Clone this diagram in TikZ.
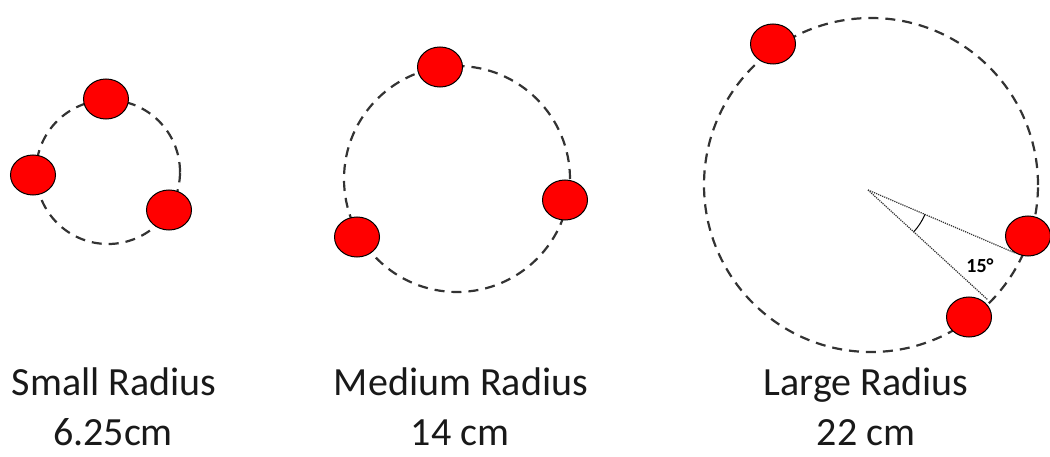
\documentclass[tikz,border=0pt]{standalone}
\usepackage{fontspec}
\setmainfont{Carlito}
\usetikzlibrary{shapes.geometric}

\tikzset{
  orbit/.style={draw=black!80, line width=2.2pt, dash pattern=on 10pt off 7pt},
  ball/.style={ellipse, draw=black, line width=1pt, fill=red, minimum width=45pt, minimum height=40pt, inner sep=0pt},
  caption/.style={anchor=base, font=\fontsize{40}{48}\selectfont, text=black!90, inner sep=0pt},
  ray/.style={densely dotted, line width=1.2pt, black!80}
}

\begin{document}
\begin{tikzpicture}[x=1pt, y=1pt]
    \useasboundingbox (0,0) rectangle (1050,456);
    % centres of the three circles
    \coordinate (sc) at (108,284);
    \coordinate (mc) at (457,277);
    \coordinate (lc) at (871,271);
    \draw[orbit] (sc) circle[radius=72];
    \draw[orbit] (mc) circle[radius=113];
    \draw[orbit] (lc) circle[radius=167];
    % small radius
    \node[ball] (s1) at (106,357) {};
    \node[ball] (s2) at (33,281) {};
    \node[ball] (s3) at (169,246) {};
    % medium radius
    \node[ball] (m1) at (440,389) {};
    \node[ball] (m2) at (565,256) {};
    \node[ball] (m3) at (357,219) {};
    % large radius
    \node[ball] (l1) at (773,412) {};
    \node[ball] (l2) at (1028,220) {};
    \node[ball] (l3) at (969,139) {};
    % angle between neighbours
    \coordinate (v) at (868,266);
    \coordinate (a1) at (1015,203);
    \coordinate (a2) at (988,156);
    \draw[ray] (v) -- (a1);
    \draw[ray] (v) -- (a2);
    \draw[line width=1pt] (v) ++(-23.2:62) arc[start angle=-23.2, end angle=-42.5, radius=62];
    \node[font=\bfseries\fontsize{20}{24}\selectfont] (ang) at (980,190) {15°};
    % captions
    \node[caption] (st) at (114,61) {Small Radius};
    \node[caption] (sv) at (113,11) {6.25cm};
    \node[caption] (mt) at (461,61) {Medium Radius};
    \node[caption] (mv) at (460,11) {14 cm};
    \node[caption] (lt) at (866,61) {Large Radius};
    \node[caption] (lv) at (866,11) {22 cm};
\end{tikzpicture}
\end{document}
